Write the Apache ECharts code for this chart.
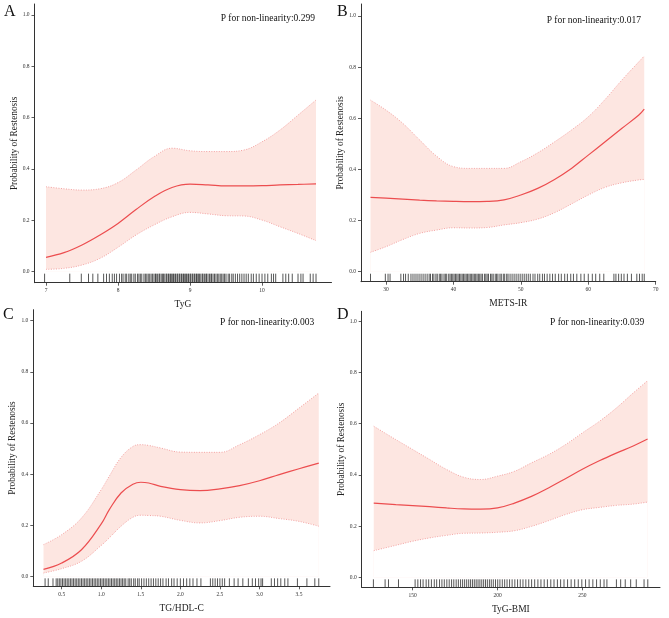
<!DOCTYPE html>
<html>
<head>
<meta charset="utf-8">
<script src="https://cdn.jsdelivr.net/npm/echarts@6/dist/echarts.min.js"></script>
<style>
html,body{margin:0;padding:0;background:#fff;}
#chart{width:669px;height:618px;}
</style>
</head>
<body>
<div id="chart"></div>
<script>
// ---------- Panel A : TyG ----------
const xA = [7.0, 7.25, 7.5, 7.75, 8.0, 8.25, 8.5, 8.75, 9.0, 9.25, 9.5, 9.75, 10.0, 10.25, 10.5, 10.75];
const fitA = [0.056, 0.074, 0.104, 0.143, 0.188, 0.242, 0.292, 0.328, 0.341, 0.338, 0.334, 0.334, 0.335, 0.338, 0.340, 0.342];
const upA  = [0.331, 0.323, 0.318, 0.323, 0.347, 0.396, 0.448, 0.481, 0.471, 0.468, 0.468, 0.474, 0.506, 0.552, 0.610, 0.669];
const loA  = [0.009, 0.013, 0.026, 0.052, 0.095, 0.143, 0.182, 0.214, 0.231, 0.225, 0.218, 0.217, 0.201, 0.175, 0.149, 0.121];
const rugA = [6.98, 7.33, 7.49, 7.59, 7.65, 7.72, 7.80, 7.84, 7.88, 7.92, 7.95, 7.98,
  8.02, 8.05, 8.07, 8.10, 8.12, 8.15, 8.17, 8.19, 8.22, 8.24, 8.27, 8.29, 8.31, 8.33, 8.36, 8.38, 8.40, 8.42, 8.44, 8.46, 8.48, 8.50,
  8.52, 8.53, 8.55, 8.57, 8.58, 8.60, 8.62, 8.63, 8.65, 8.67, 8.68, 8.70, 8.71, 8.73, 8.74, 8.76, 8.77, 8.79, 8.80, 8.82, 8.83, 8.85,
  8.86, 8.88, 8.89, 8.91, 8.92, 8.94, 8.95, 8.97, 8.98, 9.00, 9.01, 9.03, 9.04, 9.06, 9.07, 9.09, 9.10, 9.12, 9.13, 9.15, 9.17, 9.18,
  9.20, 9.22, 9.23, 9.25, 9.27, 9.29, 9.30, 9.32, 9.34, 9.36, 9.38, 9.40, 9.42, 9.44, 9.46, 9.48, 9.50, 9.53, 9.55, 9.58, 9.60, 9.63,
  9.66, 9.69, 9.72, 9.75, 9.78, 9.81, 9.85, 9.88, 9.92, 9.96, 10.00, 10.04, 10.08,
  10.13, 10.16, 10.19, 10.29, 10.33, 10.37, 10.42, 10.50, 10.54, 10.57, 10.67, 10.71, 10.75];
const xTicksA = [7, 8, 9, 10];

// ---------- Panel B : METS-IR ----------
const xB = [27.7, 30, 32.5, 35, 37.5, 40, 42.5, 45, 47.5, 50, 52.5, 55, 57.5, 60, 62.5, 65, 67.5, 68.3];
const fitB = [0.291, 0.288, 0.284, 0.280, 0.277, 0.275, 0.274, 0.275, 0.281, 0.300, 0.326, 0.361, 0.404, 0.456, 0.508, 0.561, 0.613, 0.636];
const upB  = [0.671, 0.632, 0.580, 0.515, 0.452, 0.411, 0.404, 0.404, 0.404, 0.430, 0.465, 0.508, 0.554, 0.606, 0.674, 0.750, 0.821, 0.844];
const loB  = [0.076, 0.098, 0.126, 0.150, 0.163, 0.172, 0.171, 0.173, 0.183, 0.192, 0.206, 0.231, 0.265, 0.300, 0.330, 0.348, 0.359, 0.361];
const rugB = [27.7, 29.9, 30.3, 30.6, 32.2, 32.6, 32.9, 33.3, 33.7, 34.0, 34.3, 34.6, 34.9, 35.2, 35.5, 35.8, 36.1, 36.4, 36.6, 36.9,
  37.1, 37.4, 37.6, 37.9, 38.1, 38.3, 38.6, 38.8, 39.0, 39.3, 39.5, 39.7, 39.9, 40.1, 40.3, 40.5, 40.7, 40.9, 41.1, 41.3, 41.5, 41.7,
  41.9, 42.1, 42.3, 42.5, 42.7, 42.9, 43.1, 43.3, 43.5, 43.7, 43.9, 44.1, 44.3, 44.6, 44.8, 45.0, 45.2, 45.5, 45.7, 45.9, 46.2, 46.4,
  46.6, 46.9, 47.1, 47.4, 47.6, 47.9, 48.1, 48.4, 48.7, 49.0, 49.3, 49.6, 49.9, 50.2, 50.5, 50.8, 51.1, 51.4, 51.8, 52.1, 52.5, 52.8,
  53.2, 53.5, 53.9, 54.3, 54.7, 55.1, 55.6, 56.0, 56.5, 56.9, 57.4, 57.8, 58.3, 58.9, 59.4, 60.0, 60.6, 61.1, 61.7, 62.3,
  63.8, 64.1, 64.5, 64.9, 65.3, 65.8, 66.4, 67.2, 67.6, 68.0, 68.3];
const xTicksB = [30, 40, 50, 60, 70];

// ---------- Panel C : TG/HDL-C ----------
const xC = [0.27, 0.5, 0.75, 1.0, 1.1, 1.25, 1.4, 1.5, 1.6, 1.75, 2.0, 2.25, 2.5, 2.75, 3.0, 3.25, 3.5, 3.75];
const fitC = [0.027, 0.052, 0.104, 0.205, 0.260, 0.326, 0.360, 0.368, 0.365, 0.352, 0.339, 0.335, 0.342, 0.355, 0.374, 0.398, 0.421, 0.443];
const upC  = [0.124, 0.163, 0.228, 0.339, 0.391, 0.465, 0.508, 0.515, 0.512, 0.502, 0.486, 0.485, 0.485, 0.515, 0.554, 0.600, 0.658, 0.717];
const loC  = [0.013, 0.030, 0.059, 0.121, 0.150, 0.196, 0.231, 0.239, 0.238, 0.235, 0.219, 0.209, 0.218, 0.231, 0.235, 0.226, 0.215, 0.196];
const rugC = [0.29, 0.33, 0.39, 0.43, 0.45, 0.47, 0.49, 0.51, 0.53, 0.55, 0.57, 0.59, 0.61, 0.63, 0.65, 0.67, 0.69, 0.71, 0.73, 0.75,
  0.77, 0.79, 0.81, 0.83, 0.85, 0.87, 0.89, 0.91, 0.93, 0.95, 0.97, 0.99, 1.01, 1.03, 1.05, 1.07, 1.09, 1.11, 1.13, 1.15, 1.17, 1.19,
  1.21, 1.23, 1.25, 1.27, 1.29, 1.31, 1.34, 1.36, 1.38, 1.41, 1.43, 1.46, 1.48, 1.51, 1.54, 1.57, 1.60, 1.63, 1.66, 1.69, 1.72, 1.75,
  1.78, 1.82, 1.85, 1.89, 1.92, 1.96, 2.00, 2.04, 2.08, 2.12, 2.16, 2.21, 2.26, 2.38, 2.41, 2.44, 2.47, 2.50, 2.53, 2.56, 2.62, 2.68,
  2.73, 2.79, 2.86, 2.91, 2.95, 2.99, 3.02, 3.04, 3.15, 3.19, 3.23, 3.27, 3.32, 3.36, 3.48, 3.60, 3.70, 3.75];
const xTicksC = [0.5, 1.0, 1.5, 2.0, 2.5, 3.0, 3.5];

// ---------- Panel D : TyG-BMI ----------
const xD = [127, 140, 150, 160, 170, 180, 190, 200, 210, 220, 230, 240, 250, 260, 270, 280, 288.5];
const fitD = [0.290, 0.284, 0.280, 0.276, 0.271, 0.267, 0.266, 0.271, 0.290, 0.316, 0.349, 0.385, 0.422, 0.455, 0.485, 0.513, 0.540];
const upD  = [0.590, 0.538, 0.499, 0.460, 0.421, 0.391, 0.382, 0.395, 0.414, 0.447, 0.479, 0.518, 0.564, 0.609, 0.661, 0.720, 0.768];
const loD  = [0.104, 0.125, 0.141, 0.154, 0.164, 0.172, 0.173, 0.176, 0.182, 0.199, 0.221, 0.245, 0.264, 0.273, 0.281, 0.286, 0.294];
const rugD = [126.8, 133.7, 135.7, 141.6, 151.4, 153.0, 154.6, 156.1, 157.9, 159.4, 161.0, 162.7, 164.1, 165.8, 167.2, 168.6, 170.1,
  171.5, 172.9, 174.2, 175.6, 176.9, 178.2, 179.4, 180.6, 181.8, 183.0, 184.1, 185.2, 186.3, 187.4, 188.5, 189.6, 190.7, 191.8, 192.9,
  194.0, 195.2, 196.3, 197.5, 198.8, 200.1, 201.4, 202.8, 204.2, 205.6, 207.1, 208.6, 210.2, 211.8, 213.4, 215.0, 216.7, 218.4, 220.1,
  221.9, 223.8, 225.6, 227.5, 229.4, 231.4, 233.3, 235.3, 237.2, 239.2, 241.3, 243.4, 245.5, 247.6, 249.7, 251.9, 254.0, 256.2, 258.4,
  260.6, 262.8, 264.5, 270.1, 272.6, 275.3, 278.5, 281.8, 286.4, 288.6];
const xTicksD = [150, 200, 250];

const yTicks = [0, 0.2, 0.4, 0.6, 0.8, 1.0];
const panelLetters = ['A', 'B', 'C', 'D'];
const xNames = ['TyG', 'METS-IR', 'TG/HDL-C', 'TyG-BMI'];
const pTexts = ['P for non-linearity:0.299', 'P for non-linearity:0.017', 'P for non-linearity:0.003', 'P for non-linearity:0.039'];
const yName = 'Probability of Restenosis';

// ---------- layout / style ----------
const FONT = '"Liberation Serif", "Times New Roman", serif';
const LINE_RED = '#ec4d4f';
const CI_RED = '#f29a9a';
const BAND = '#fde6e1';
const AX = '#333';

const panels = [
  { x: xA, fit: fitA, up: upA, lo: loA, rug: rugA, ticks: xTicksA,
    grid: { left: 34.5, top: 4, width: 297, height: 278.7 }, xmin: 6.84, xmax: 10.965, ymin: -0.043, ymax: 1.043 },
  { x: xB, fit: fitB, up: upB, lo: loB, rug: rugB, ticks: xTicksB,
    grid: { left: 361, top: 4, width: 294.7, height: 277.7 }, xmin: 26.29, xmax: 70.0, ymin: -0.039, ymax: 1.047 },
  { x: xC, fit: fitC, up: upC, lo: loC, rug: rugC, ticks: xTicksC,
    grid: { left: 33.3, top: 309.7, width: 296.7, height: 276.6 }, xmin: 0.141, xmax: 3.892, ymin: -0.039, ymax: 1.043 },
  { x: xD, fit: fitD, up: upD, lo: loD, rug: rugD, ticks: xTicksD,
    grid: { left: 361.7, top: 311.3, width: 298.3, height: 276 }, xmin: 119.9, xmax: 295.8, ymin: -0.039, ymax: 1.039 }
];

const grids = [], xAxes = [], yAxes = [], series = [], graphics = [];
const labelPos = [[4, 4], [337, 4], [3, 307], [337, 307]];
const pPos = [[220.7, 13.5], [546.7, 15.5], [220, 317.5], [550, 317.5]];

panels.forEach((p, i) => {
  grids.push(Object.assign({ containLabel: false }, p.grid));
  xAxes.push({
    type: 'value', gridIndex: i, min: p.xmin, max: p.xmax, z: 10,
    name: xNames[i], nameLocation: 'middle', nameGap: 17,
    nameTextStyle: { fontFamily: FONT, fontSize: 9.5, color: '#222' },
    axisLine: { show: true, onZero: false, lineStyle: { color: AX, width: 1 } },
    axisTick: { show: true, length: 3, inside: false, customValues: p.ticks, lineStyle: { color: AX, width: 0.8 } },
    axisLabel: { show: true, fontFamily: FONT, fontSize: 5.5, color: '#333', margin: 5, customValues: p.ticks,
      formatter: v => (p.ticks === xTicksC ? v.toFixed(1) : String(v)) },
    splitLine: { show: false }
  });
  yAxes.push({
    type: 'value', gridIndex: i, min: p.ymin, max: p.ymax, z: 10,
    name: yName, nameLocation: 'middle', nameGap: 15,
    nameTextStyle: { fontFamily: FONT, fontSize: 9.3, color: '#222' },
    axisLine: { show: true, onZero: false, lineStyle: { color: AX, width: 1 } },
    axisTick: { show: true, length: 3, customValues: yTicks, lineStyle: { color: AX, width: 0.8 } },
    axisLabel: { show: true, fontFamily: FONT, fontSize: 5.5, color: '#333', margin: 5, customValues: yTicks,
      formatter: v => v.toFixed(1) },
    splitLine: { show: false }
  });

  const pair = arr => p.x.map((xv, k) => [xv, arr[k]]);
  // upper bound: pink fill down to 0, dotted edge
  series.push({
    type: 'line', xAxisIndex: i, yAxisIndex: i, data: pair(p.up), smooth: 0.4, symbol: 'none',
    lineStyle: { color: CI_RED, width: 0.9, type: [1, 1.5] },
    areaStyle: { color: BAND, opacity: 1, origin: 0 }, silent: true, z: 1
  });
  // lower bound: white fill down to 0 (clears under band), dotted edge
  series.push({
    type: 'line', xAxisIndex: i, yAxisIndex: i, data: pair(p.lo), smooth: 0.4, symbol: 'none',
    lineStyle: { color: CI_RED, width: 0.9, type: [1, 1.5] },
    areaStyle: { color: '#ffffff', opacity: 1, origin: 0 }, silent: true, z: 2
  });
  series.push({
    type: 'line', xAxisIndex: i, yAxisIndex: i, data: pair(p.fit), smooth: 0.4, symbol: 'none',
    lineStyle: { color: LINE_RED, width: 1.2 }, silent: true, z: 3
  });
  const ymin = p.ymin;
  series.push({
    type: 'custom', xAxisIndex: i, yAxisIndex: i,
    data: p.rug.map(v => [v, 0]),
    renderItem: (params, api) => {
      const top = api.coord([api.value(0), 0]);
      const bot = api.coord([api.value(0), ymin]);
      return { type: 'line', shape: { x1: top[0], y1: top[1] + 2, x2: top[0], y2: bot[1] },
        style: { stroke: 'rgba(15,15,15,0.78)', lineWidth: 0.9 } };
    },
    silent: true, z: 4
  });

  graphics.push({ type: 'text', left: labelPos[i][0], top: labelPos[i][1], z: 20,
    style: { text: panelLetters[i], font: '16px ' + FONT, fill: '#111' } });
  graphics.push({ type: 'text', left: pPos[i][0], top: pPos[i][1], z: 20,
    style: { text: pTexts[i], font: '9.5px ' + FONT, fill: '#111' } });
});

const chart = echarts.init(document.getElementById('chart'), null, { renderer: 'canvas' });
chart.setOption({
  backgroundColor: '#ffffff',
  animation: false,
  grid: grids, xAxis: xAxes, yAxis: yAxes, series: series, graphic: graphics
});
</script>
</body>
</html>
